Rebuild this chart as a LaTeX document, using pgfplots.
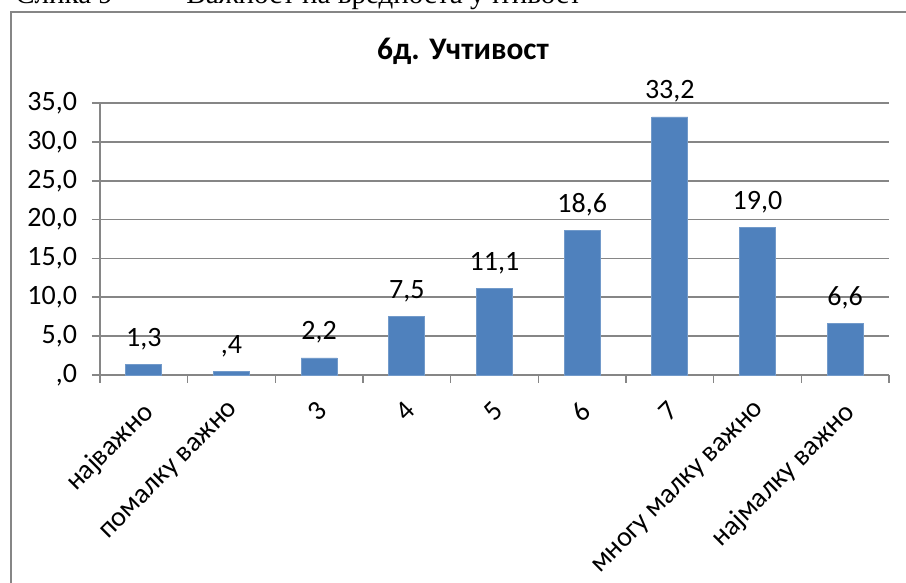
\documentclass[border=0pt]{standalone}
\usepackage{pgfplots}
\pgfplotsset{compat=1.18}
\usepackage{fontspec}
\setmainfont{Carlito}
\newfontfamily\capfont{Liberation Serif}
\definecolor{barblue}{HTML}{4F81BD}
\definecolor{axgray}{HTML}{868686}
\begin{document}
\begin{tikzpicture}[x=0.5pt,y=0.5pt]
\useasboundingbox (0,0) rectangle (906,583);
\clip (0,0) rectangle (906,583);
% caption (cut at top)
\node[anchor=base west,inner sep=0pt,font=\capfont\fontsize{14.5}{16}\selectfont] at (15,579) {Слика 9 –};
\node[anchor=base east,inner sep=0pt,font=\capfont\fontsize{14.5}{16}\selectfont] at (582,579) {Важност на вредноста учтивост};
% chart frame
\draw[axgray,line width=1pt] (11,-10) -- (11,571) -- (920,571) -- (920,-10);
% title
\node[anchor=base,inner sep=0pt,font=\bfseries\fontsize{15.7}{18}\selectfont] at (463,523) {6д. Учтивост};
\begin{axis}[
  at={(50pt,104pt)}, anchor=south west,
  scale only axis, width=394.5pt, height=136pt,
  xmin=-0.5, xmax=8.5, ymin=0, ymax=35,
  axis x line*=bottom, axis y line*=left,
  axis line style={axgray,line width=0.8pt},
  ytick={0,5,...,35},
  yticklabels={{,0},{5,0},{10,0},{15,0},{20,0},{25,0},{30,0},{35,0}},
  ymajorgrids, grid style={axgray,line width=0.8pt},
  xtick={-0.5,0.5,...,8.5}, xticklabels={},
  extra x ticks={0,...,8},
  extra x tick labels={најважно,помалку важно,3,4,5,6,7,многу малку важно,најмалку важно},
  extra x tick style={grid=none, major tick length=0pt},
  major tick length=4pt,
  tick style={axgray,line width=0.8pt},
  tick align=outside,
  ticklabel style={font=\fontsize{14}{16}\selectfont},
  x tick label style={xshift=-1.5pt, yshift=-7.5pt, rotate=45, anchor=north east},
  y tick label style={xshift=-4pt},
  clip=false,
]
\addplot[ybar, bar width=18pt, fill=barblue, draw=barblue!80!white,
  point meta=explicit symbolic,
  nodes near coords,
  every node near coord/.append style={anchor=base, yshift=9pt, font=\fontsize{14}{16}\selectfont, black}]
  table[x=x, y=y, meta=lab] {
x y lab
0 1.3 1,3
1 0.4 ,4
2 2.2 2,2
3 7.5 7,5
4 11.1 11,1
5 18.6 18,6
6 33.2 33,2
7 19.0 19,0
8 6.6 6,6
};
\end{axis}
\end{tikzpicture}
\end{document}
